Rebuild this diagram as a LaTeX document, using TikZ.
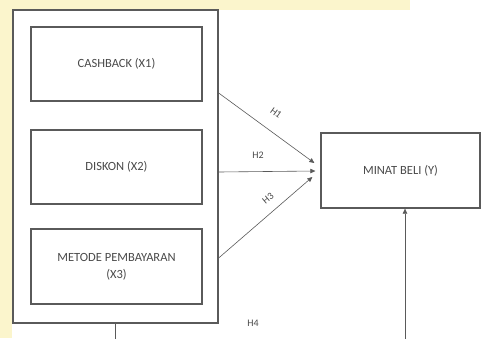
\documentclass[tikz,border=0pt]{standalone}
\usepackage{fontspec}
\setmainfont{Carlito}
\usetikzlibrary{arrows.meta,calc}
\definecolor{wm}{HTML}{FBF5CC}
\definecolor{ln}{HTML}{5A5A5A}
\definecolor{tx}{HTML}{4A4A4A}
\tikzset{
  box/.style={draw=ln, line width=1.3pt, fill=white, inner sep=0pt, align=center, text=tx, font=\fontsize{12.5}{14}\selectfont},
  conn/.style={draw=ln, line width=0.6pt, -{Triangle[length=5pt,width=4.5pt]}},
  hlab/.style={text=tx, font=\fontsize{10}{11}\selectfont, inner sep=0pt}
}
\begin{document}
\begin{tikzpicture}[x=1pt,y=-1pt]
\useasboundingbox (0,0) rectangle (481,338);
\clip (0,0) rectangle (481,338);
\fill[white] (0,0) rectangle (481,338);
\fill[wm] (0,0) rectangle (410,10);
\fill[wm] (0,0) rectangle (12,338);
\node[box, minimum width=205pt, minimum height=313pt] (outer) at (115.5,166.5) {};
\node[box, line width=1.1pt, minimum width=171pt, minimum height=74pt] (x1) at (116.5,64) {CASHBACK (X1)};
\node[box, line width=1.1pt, minimum width=171pt, minimum height=74pt] (x2) at (116.5,167) {DISKON (X2)};
\node[box, line width=1.1pt, minimum width=171pt, minimum height=75pt] (x3) at (116.5,266.5) {METODE PEMBAYARAN\\[3pt](X3)};
\node[box, minimum width=159pt, minimum height=75pt] (y) at (400.5,170.5) {MINAT BELI (Y)};
\coordinate (s1) at (outer.east |- 0,93);
\coordinate (s2) at (outer.east |- 0,172);
\coordinate (s3) at (outer.east |- 0,258);
\coordinate (e1) at ($(y.west |- 0,163)+(-6,0)$);
\coordinate (e2) at ($(y.west |- 0,171)+(-5,0)$);
\coordinate (e3) at ($(y.west |- 0,177)+(-8,0)$);
\draw[conn] (s1) -- (e1);
\draw[conn] (s2) -- (e2);
\draw[conn] (s3) -- (e3);
\node[hlab, rotate=-36] (h1) at (276,113) {H1};
\node[hlab] (h2) at (258,155) {H2};
\node[hlab, rotate=40] (h3) at (268,198) {H3};
\coordinate (b1) at (outer.south -| 115,0);
\coordinate (b2) at (115,348);
\coordinate (b3) at (405,348);
\draw[conn] (b1) -- (b2) -- (b3) -- (y.south -| b3);
\node[hlab] (h4) at (253,323) {H4};
\end{tikzpicture}
\end{document}
